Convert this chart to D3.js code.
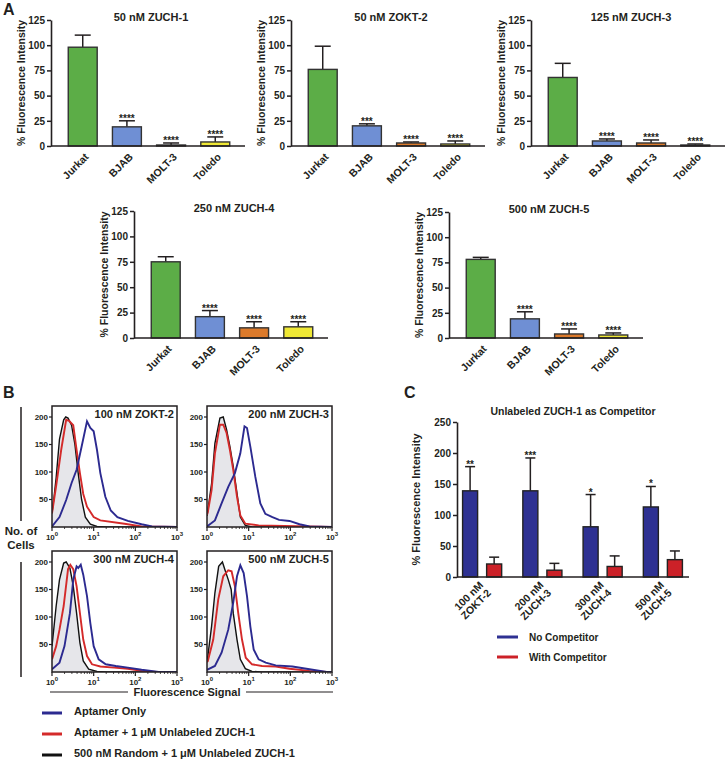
<!DOCTYPE html>
<html><head><meta charset="utf-8">
<script src="https://cdn.jsdelivr.net/npm/d3@7"></script>
<style>
body{margin:0;background:#fff;}
svg{font-family:"Liberation Sans",Arial,Helvetica,sans-serif;font-weight:bold;}
</style></head><body>
<svg id="fig" width="726" height="759"></svg>
<script>
// ---------------- DATA ----------------
// Panel A
const cellLines = ["Jurkat", "BJAB", "MOLT-3", "Toledo"];
const panelATitles = ["50 nM ZUCH-1", "50 nM ZOKT-2", "125 nM ZUCH-3", "250 nM ZUCH-4", "500 nM ZUCH-5"];
const panelAMeans = [[98, 19, 1, 4], [76, 20, 3, 2], [68, 5, 3, 1], [75, 21, 10, 11], [78, 19, 4, 3]];
const panelAErr = [[12, 6, 2, 5], [23, 2, 1, 3], [14, 2, 3, 1], [5, 6, 6, 5], [2, 7, 5, 2]];
const panelAStars = [["", "****", "****", "****"], ["", "***", "****", "****"], ["", "****", "****", "****"], ["", "****", "****", "****"], ["", "****", "****", "****"]];
const yTicksA = [0, 25, 50, 75, 100, 125];

// Panel B (x in log10 of fluorescence signal, y = number of cells)
const histTitles = ["100 nM ZOKT-2", "200 nM ZUCH-3", "300 nM ZUCH-4", "500 nM ZUCH-5"];
const histBlack = [
  [[0,25],[0.05,55],[0.10,90],[0.18,160],[0.28,195],[0.33,200],[0.385,198],[0.47,185],[0.55,150],[0.63,97],[0.71,50],[0.80,18],[0.92,5],[1.08,1],[1.3,0],[3,0]],
  [[0,20],[0.02,30],[0.11,79],[0.19,152],[0.31,198],[0.39,200],[0.47,177],[0.55,146],[0.63,110],[0.72,61],[0.80,18],[0.92,3],[1.08,0],[3,0]],
  [[0,47],[0.10,120],[0.18,168],[0.28,198],[0.34,200],[0.43,189],[0.51,156],[0.59,107],[0.67,53],[0.75,20],[0.88,5],[1.08,1],[1.3,0],[3,0]],
  [[0,22],[0.02,29],[0.11,83],[0.19,144],[0.28,192],[0.37,200],[0.43,186],[0.51,168],[0.58,150],[0.63,107],[0.72,59],[0.80,23],[0.92,6],[1.08,1],[1.3,0],[3,0]]
];
const histRed = [
  [[0,25],[0.10,75],[0.22,140],[0.34,195],[0.41,193],[0.51,185],[0.59,140],[0.67,98],[0.75,60],[0.84,37],[1.0,18],[1.16,12],[1.74,6],[2.15,1],[3,0]],
  [[0,22],[0.02,27],[0.11,67],[0.19,134],[0.31,186],[0.39,186],[0.47,171],[0.55,140],[0.63,104],[0.72,55],[0.80,21],[0.92,6],[1.24,3],[2.46,1],[3,0]],
  [[0,23],[0.10,47],[0.18,77],[0.28,120],[0.385,187],[0.44,195],[0.51,187],[0.59,156],[0.67,107],[0.75,59],[0.84,29],[0.96,14],[1.16,10],[1.49,8],[1.82,6],[2.15,2],[2.5,0],[3,0]],
  [[0,18],[0.02,20],[0.15,59],[0.27,132],[0.39,174],[0.51,185],[0.59,183],[0.67,156],[0.75,107],[0.84,59],[0.93,26],[1.08,14],[1.32,11],[1.65,10],[1.98,6],[2.46,2],[2.87,0],[3,0]]
];
const histBlue = [
  [[0,1],[0.18,18],[0.34,49],[0.47,80],[0.59,104],[0.71,146],[0.84,192],[0.92,180],[1.0,174],[1.08,140],[1.16,98],[1.28,55],[1.41,30],[1.57,18],[1.82,11],[2.15,5],[2.4,1],[3,0]],
  [[0,1],[0.19,12],[0.35,43],[0.51,73],[0.67,98],[0.80,134],[0.90,183],[0.96,180],[1.04,146],[1.16,91],[1.28,43],[1.40,24],[1.57,18],[1.73,13],[1.98,11],[2.22,5],[2.46,1],[3,0]],
  [[0,5],[0.18,17],[0.30,47],[0.43,107],[0.51,168],[0.59,192],[0.63,189],[0.69,195],[0.75,177],[0.84,138],[0.92,89],[1.0,47],[1.12,23],[1.29,14],[1.53,11],[1.82,8],[2.15,4],[2.56,0],[3,0]],
  [[0,4],[0.19,11],[0.35,35],[0.51,77],[0.63,126],[0.72,174],[0.80,194],[0.88,180],[0.96,138],[1.04,83],[1.12,41],[1.24,23],[1.41,17],[1.65,12],[2.05,10],[2.46,5],[2.87,0],[3,0]]
];
const histYTicks = [50, 100, 150, 200];
const histXTicks = [0, 1, 2, 3];
const legendB = ["Aptamer Only", "Aptamer + 1 \u03bcM Unlabeled ZUCH-1", "500 nM Random + 1 \u03bcM Unlabeled ZUCH-1"];

// Panel C
const cGroupLine1 = ["100 nM", "200 nM", "300 nM", "500 nM"];
const cGroupLine2 = ["ZOKT-2", "ZUCH-3", "ZUCH-4", "ZUCH-5"];
const cSeries = ["No Competitor", "With Competitor"];
const cNoComp = [139, 139, 81, 113];
const cNoCompErr = [39, 53, 52, 33];
const cWithComp = [21, 11, 17, 28];
const cWithCompErr = [11, 11, 17, 14];
const cStars = ["**", "***", "*", "*"];
const yTicksC = [0, 50, 100, 150, 200, 250];

// ---------------- STYLE / LAYOUT ----------------
const ink = "#231f20";
const barColors = ["#5cad47", "#6f8fd4", "#dc7a2b", "#efe835"];
const histColors = {black: "#111111", red: "#d42a2a", blue: "#2c2a90", fill: "#e6e6ea"};
const cColors = ["#2e3192", "#cc2128"];

const svg = d3.select("#fig");

function styleAxis(g, fs) {
  g.attr("font-family", null).attr("font-size", null);
  g.selectAll("text").attr("font-size", fs).attr("font-weight", "bold").attr("fill", ink);
  g.selectAll("line").attr("stroke", ink).attr("stroke-width", 1.5);
  g.select(".domain").attr("stroke", ink).attr("stroke-width", 1.6);
}

// ---------- Panel A ----------
svg.append("text").attr("x", 3).attr("y", 15).attr("font-size", 16).attr("fill", ink).text("A");
const layoutA = [
  {x: 51, top: 20, bottom: 146}, {x: 291, top: 20, bottom: 146}, {x: 531, top: 20, bottom: 146},
  {x: 134, top: 211, bottom: 338}, {x: 449, top: 212, bottom: 338}
];
const plotWA = 194;
layoutA.forEach((L, i) => {
  const g = svg.append("g");
  const x = d3.scaleBand().domain(cellLines).range([L.x + 4, L.x + plotWA - 2]).paddingInner(0.345).paddingOuter(0.3);
  const y = d3.scaleLinear().domain([0, 125]).range([L.bottom, L.top]);
  cellLines.forEach((c, j) => {
    const m = panelAMeans[i][j], e = panelAErr[i][j];
    const cx = x(c) + x.bandwidth() / 2;
    g.append("line").attr("x1", cx).attr("x2", cx).attr("y1", y(m)).attr("y2", y(m + e)).attr("stroke", ink).attr("stroke-width", 1.5);
    g.append("line").attr("x1", cx - 8).attr("x2", cx + 8).attr("y1", y(m + e)).attr("y2", y(m + e)).attr("stroke", ink).attr("stroke-width", 1.5);
    g.append("rect").attr("x", x(c)).attr("width", x.bandwidth()).attr("y", y(m)).attr("height", y(0) - y(m))
      .attr("fill", barColors[j]).attr("stroke", "#333").attr("stroke-width", 1.4);
    if (panelAStars[i][j]) {
      g.append("text").attr("x", cx).attr("y", y(m + e) + 1).attr("text-anchor", "middle").attr("font-size", 10).attr("fill", ink).text(panelAStars[i][j]);
    }
    g.append("text").attr("transform", `translate(${cx + 4},${y(0) + 9}) rotate(-45)`)
      .attr("text-anchor", "end").attr("dy", "0.35em").attr("font-size", 10.5).attr("fill", ink).text(c);
  });
  const ya = g.append("g").attr("transform", `translate(${L.x},0)`)
    .call(d3.axisLeft(y).tickValues(yTicksA).tickSize(4).tickSizeOuter(0).tickPadding(2));
  styleAxis(ya, 10);
  g.append("line").attr("x1", L.x).attr("x2", L.x + plotWA).attr("y1", y(0)).attr("y2", y(0)).attr("stroke", ink).attr("stroke-width", 1.6);
  g.append("text").attr("transform", `translate(${L.x - 26},${(L.top + L.bottom) / 2}) rotate(-90)`)
    .attr("text-anchor", "middle").attr("font-size", 10.5).attr("fill", ink).text("% Fluorescence Intensity");
  g.append("text").attr("x", L.x + plotWA / 2 + 3).attr("y", L.top + 1).attr("text-anchor", "middle").attr("font-size", 11).attr("fill", ink).text(panelATitles[i]);
});

// ---------- Panel B ----------
svg.append("text").attr("x", 3).attr("y", 398).attr("font-size", 16).attr("fill", ink).text("B");
const histLayout = [{x: 52, y: 406}, {x: 207, y: 406}, {x: 52, y: 551}, {x: 207, y: 551}];
const hw = 125, hh = 121;
histLayout.forEach((L, i) => {
  const g = svg.append("g");
  const x = d3.scaleLinear().domain([0, 3]).range([L.x, L.x + hw]);
  const y = d3.scaleLinear().domain([0, 220]).range([L.y + hh, L.y]);
  const clipId = "clip" + i;
  g.append("clipPath").attr("id", clipId).append("rect").attr("x", L.x).attr("y", L.y).attr("width", hw).attr("height", hh);
  const cg = g.append("g").attr("clip-path", `url(#${clipId})`);
  const area = d3.area().x(d => x(d[0])).y0(y(0)).y1(d => y(d[1]));
  const line = d3.line().x(d => x(d[0])).y(d => y(d[1]));
  cg.append("path").datum(histBlack[i]).attr("d", area).attr("fill", histColors.fill);
  cg.append("path").datum(histBlack[i]).attr("d", line).attr("fill", "none").attr("stroke", histColors.black).attr("stroke-width", 1.4);
  cg.append("path").datum(histRed[i]).attr("d", line).attr("fill", "none").attr("stroke", histColors.red).attr("stroke-width", 1.9);
  cg.append("path").datum(histBlue[i]).attr("d", line).attr("fill", "none").attr("stroke", histColors.blue).attr("stroke-width", 1.9);
  g.append("rect").attr("x", L.x).attr("y", L.y).attr("width", hw).attr("height", hh).attr("fill", "none").attr("stroke", ink).attr("stroke-width", 1.5);
  histYTicks.forEach(t => {
    g.append("line").attr("x1", L.x - 3).attr("x2", L.x).attr("y1", y(t)).attr("y2", y(t)).attr("stroke", ink).attr("stroke-width", 1.2);
    g.append("text").attr("x", L.x - 4).attr("y", y(t)).attr("dy", "0.35em").attr("text-anchor", "end").attr("font-size", 8).attr("fill", ink).text(t);
  });
  for (let d = 0; d < 3; d++) {
    for (let k = 2; k <= 9; k++) {
      const v = d + Math.log10(k);
      g.append("line").attr("x1", x(v)).attr("x2", x(v)).attr("y1", L.y + hh).attr("y2", L.y + hh + 2).attr("stroke", ink).attr("stroke-width", 0.8);
    }
  }
  histXTicks.forEach(t => {
    g.append("line").attr("x1", x(t)).attr("x2", x(t)).attr("y1", L.y + hh).attr("y2", L.y + hh + 4).attr("stroke", ink).attr("stroke-width", 1.2);
    const tx = g.append("text").attr("x", x(t)).attr("y", L.y + hh + 13).attr("text-anchor", "middle").attr("font-size", 8).attr("fill", ink);
    tx.append("tspan").text("10");
    tx.append("tspan").attr("dy", -4).attr("font-size", 6).text(t);
  });
  g.append("text").attr("x", L.x + hw - 3).attr("y", L.y + 12).attr("text-anchor", "end").attr("font-size", 11).attr("fill", ink).text(histTitles[i]);
});
// y title with lines
svg.append("line").attr("x1", 21).attr("x2", 21).attr("y1", 407).attr("y2", 521).attr("stroke", ink).attr("stroke-width", 1.5);
svg.append("line").attr("x1", 21).attr("x2", 21).attr("y1", 562).attr("y2", 677).attr("stroke", ink).attr("stroke-width", 1.5);
svg.append("text").attr("x", 21).attr("y", 535).attr("text-anchor", "middle").attr("font-size", 11.5).attr("fill", ink).text("No. of");
svg.append("text").attr("x", 21).attr("y", 549).attr("text-anchor", "middle").attr("font-size", 11.5).attr("fill", ink).text("Cells");
// x title with lines
svg.append("line").attr("x1", 50).attr("x2", 128).attr("y1", 692).attr("y2", 692).attr("stroke", ink).attr("stroke-width", 1.2);
svg.append("line").attr("x1", 246).attr("x2", 333).attr("y1", 692).attr("y2", 692).attr("stroke", ink).attr("stroke-width", 1.2);
svg.append("text").attr("x", 187).attr("y", 696).attr("text-anchor", "middle").attr("font-size", 11).attr("fill", ink).text("Fluorescence Signal");
// legend B
const legBColors = [histColors.blue, histColors.red, histColors.black];
legendB.forEach((t, i) => {
  const yy = 713 + i * 21;
  svg.append("line").attr("x1", 42).attr("x2", 62).attr("y1", yy).attr("y2", yy).attr("stroke", legBColors[i]).attr("stroke-width", 3);
  svg.append("text").attr("x", 74).attr("y", yy + 2).attr("font-size", 11).attr("fill", ink).text(t);
});

// ---------- Panel C ----------
svg.append("text").attr("x", 404).attr("y", 398).attr("font-size", 16).attr("fill", ink).text("C");
{
  const g = svg.append("g");
  const axX = 457, axEnd = 689, top = 422, bottom = 577;
  const x0 = d3.scaleBand().domain(cGroupLine2).range([452, 693]).padding(0);
  const x1 = d3.scaleBand().domain(cSeries).range([0, x0.bandwidth()]).paddingInner(0.375).paddingOuter(0.44);
  const y = d3.scaleLinear().domain([0, 250]).range([bottom, top]);
  const vals = [cNoComp, cWithComp], errs = [cNoCompErr, cWithCompErr];
  cGroupLine2.forEach((grp, gi) => {
    cSeries.forEach((s, si) => {
      const m = vals[si][gi], e = errs[si][gi];
      const bx = x0(grp) + x1(s), cx = bx + x1.bandwidth() / 2;
      g.append("line").attr("x1", cx).attr("x2", cx).attr("y1", y(m)).attr("y2", y(m + e)).attr("stroke", ink).attr("stroke-width", 1.5);
      g.append("line").attr("x1", cx - 5).attr("x2", cx + 5).attr("y1", y(m + e)).attr("y2", y(m + e)).attr("stroke", ink).attr("stroke-width", 1.5);
      g.append("rect").attr("x", bx).attr("width", x1.bandwidth()).attr("y", y(m)).attr("height", y(0) - y(m))
        .attr("fill", cColors[si]).attr("stroke", "#222").attr("stroke-width", 1.4);
      if (si === 0) {
        g.append("text").attr("x", cx).attr("y", y(m + e) + 1).attr("text-anchor", "middle").attr("font-size", 10).attr("fill", ink).text(cStars[gi]);
      }
    });
    const gc = x0(grp) + x0.bandwidth() / 2;
    const lab = g.append("text").attr("transform", `translate(${gc + 1},${bottom + 8}) rotate(-45)`)
      .attr("text-anchor", "end").attr("font-size", 10.5).attr("fill", ink);
    lab.append("tspan").attr("x", 0).attr("dy", "0.1em").text(cGroupLine1[gi]);
    lab.append("tspan").attr("x", 0).attr("dy", "1.05em").text(cGroupLine2[gi]);
  });
  const ya = g.append("g").attr("transform", `translate(${axX},0)`)
    .call(d3.axisLeft(y).tickValues(yTicksC).tickSize(4).tickSizeOuter(0).tickPadding(2));
  styleAxis(ya, 10);
  g.append("line").attr("x1", axX).attr("x2", axEnd).attr("y1", y(0)).attr("y2", y(0)).attr("stroke", ink).attr("stroke-width", 1.6);
  g.append("text").attr("transform", `translate(420,${(top + bottom) / 2}) rotate(-90)`)
    .attr("text-anchor", "middle").attr("font-size", 11).attr("fill", ink).text("% Fluorescence Intensity");
  g.append("text").attr("x", 573).attr("y", 415).attr("text-anchor", "middle").attr("font-size", 10.5).attr("fill", ink).text("Unlabeled ZUCH-1 as Competitor");
  cSeries.forEach((s, i) => {
    const yy = 637 + i * 20;
    g.append("line").attr("x1", 497).attr("x2", 518).attr("y1", yy).attr("y2", yy).attr("stroke", cColors[i]).attr("stroke-width", 3);
    g.append("text").attr("x", 529).attr("y", yy + 3.5).attr("font-size", 10).attr("fill", ink).text(s);
  });
}
</script>
</body></html>
